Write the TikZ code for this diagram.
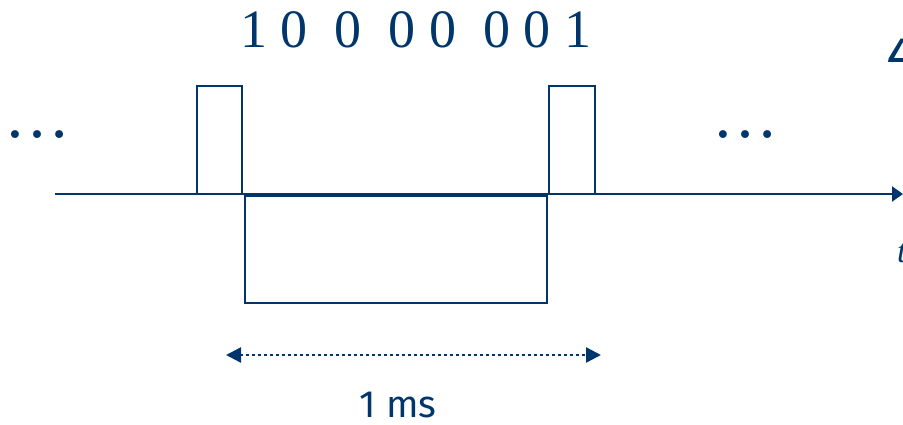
\documentclass[tikz,border=0pt]{standalone}
\usepackage{fontspec}
\setmainfont{Liberation Serif}
\newfontfamily\labelfont{Fira Sans}
\newfontfamily\edgefont{Liberation Sans}
\usepackage{tikz}
\usetikzlibrary{arrows.meta,positioning}
\definecolor{navy}{RGB}{0,54,107}

\begin{document}
\begin{tikzpicture}[
    x=1pt, y=-1pt,
    pulse/.style={draw=navy, line width=2.2pt},
    axis/.style={draw=navy, line width=2.2pt, -{Triangle[length=11pt,width=15pt]}},
    span/.style={draw=navy, line width=2.4pt, dash pattern=on 2.4pt off 3.6pt,
        {Triangle[length=15pt,width=15pt]}-{Triangle[length=15pt,width=15pt]}},
    txt/.style={text=navy, inner sep=0pt}
]
    \useasboundingbox (0,0) rectangle (903,424);

    % time axis
    \coordinate (tstart) at (55,194);
    \coordinate (tend) at (903,194);
    \draw[axis] (tstart) -- (tend);

    % pulses
    \draw[pulse] (197,194) rectangle (242,86);
    \draw[pulse] (549,194) rectangle (595,86);
    \draw[pulse] (245,195.5) rectangle (547,303);

    % bit pattern
    \node[txt, anchor=base west, font=\fontsize{54}{54}\selectfont] (bits) at (240,47)
        {1 0 \ 0 \ 0 0 \ 0 0 1};

    % dots on both sides
    \node[txt, anchor=base, font=\fontsize{66}{66}\selectfont] (dotsL) at (38,137) {\char"2026};
    \node[txt, anchor=base, font=\fontsize{66}{66}\selectfont] (dotsR) at (745,137) {\char"2026};

    % duration
    \coordinate (msL) at (226,355);
    \coordinate (msR) at (601,355);
    \draw[span] (msL) -- (msR);
    \node[txt, anchor=base, font=\labelfont\fontsize{38}{38}\selectfont] (ms) at (398,417) {1 ms};

    % cut-off labels at the right edge
    \node[txt, anchor=base west, font=\edgefont\bfseries\itshape\fontsize{34}{34}\selectfont] (delta) at (889,62) {Δ};
    \node[txt, anchor=base west, font=\itshape\fontsize{34}{34}\selectfont] (tlab) at (897,262) {t};
\end{tikzpicture}
\end{document}
